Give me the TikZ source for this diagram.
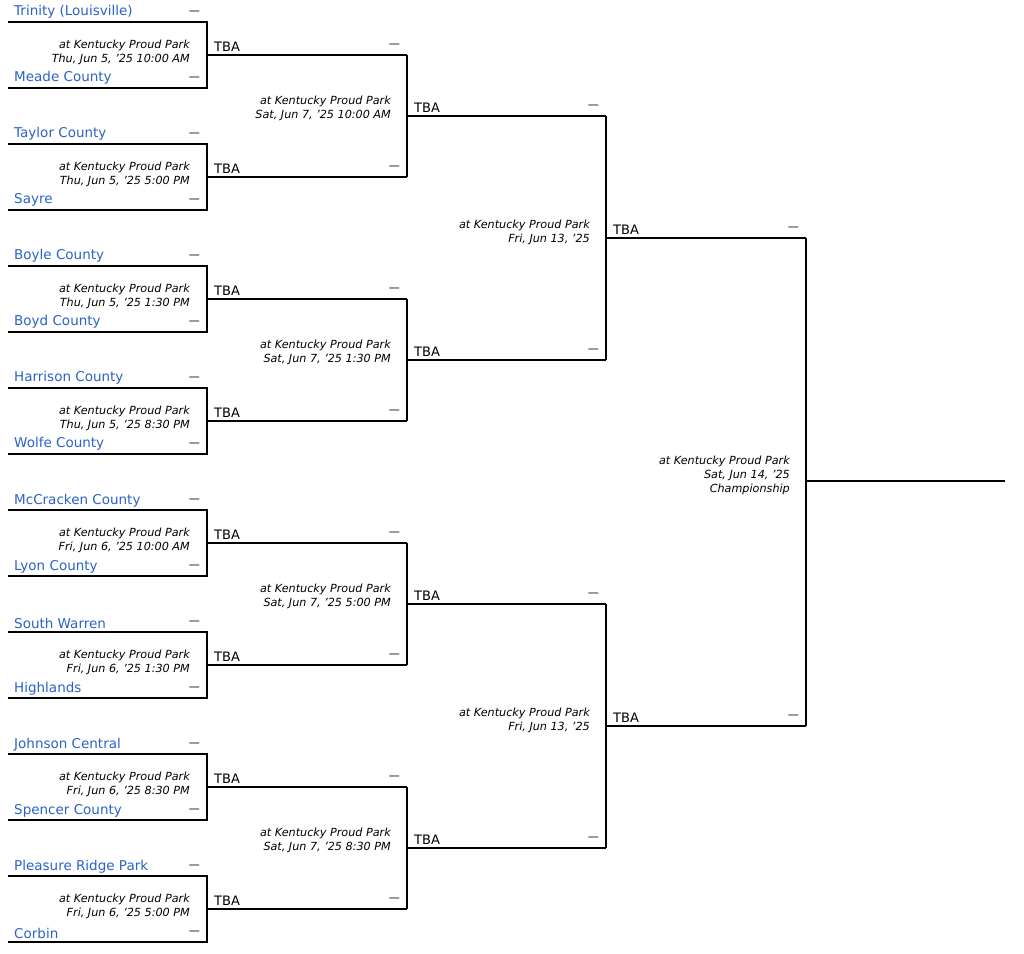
\documentclass[tikz,border=0pt]{standalone}
\usepackage{fontspec}
\setmainfont{DejaVu Sans}
\usetikzlibrary{calc}
\definecolor{teamblue}{RGB}{41,98,200}
\tikzset{
    bline/.style={line width=1.7pt, black},
    team/.style={anchor=south west, inner sep=1pt, text=teamblue, font=\fontsize{13.5}{15}\selectfont},
    score/.style={anchor=south east, inner sep=1pt, font=\fontsize{11}{14}\selectfont},
    tba/.style={anchor=south west, inner sep=1pt, font=\fontsize{13}{15}\selectfont},
    venue/.style={anchor=north east, inner sep=0pt, align=right, font=\fontsize{11.2}{14}\itshape\selectfont}
}
\begin{document}
\begin{tikzpicture}[x=1pt,y=-1pt]
    \useasboundingbox (0,0) rectangle (1024,953);
    % first round
    \foreach \i/\ta/\tb/\when in {
        0/Trinity (Louisville)/Meade County/{Thu, Jun 5, '25 10:00 AM},
        1/Taylor County/Sayre/{Thu, Jun 5, '25 5:00 PM},
        2/Boyle County/Boyd County/{Thu, Jun 5, '25 1:30 PM},
        3/Harrison County/Wolfe County/{Thu, Jun 5, '25 8:30 PM},
        4/McCracken County/Lyon County/{Fri, Jun 6, '25 10:00 AM},
        5/South Warren/Highlands/{Fri, Jun 6, '25 1:30 PM},
        6/Johnson Central/Spencer County/{Fri, Jun 6, '25 8:30 PM},
        7/Pleasure Ridge Park/Corbin/{Fri, Jun 6, '25 5:00 PM}} {
        \pgfmathsetmacro\t{22+122*\i}
        \coordinate (a\i) at (8,\t);
        \coordinate (b\i) at (8,\t+66);
        \coordinate (w\i) at (207,\t+33);
        \coordinate (n\i) at (407,\t+33);
        \draw[bline] (a\i) -- (207,\t) -- (207,\t+66) -- (b\i);
        \draw[bline] (w\i) -- (n\i);
        \node[team] (ta\i) at ($(a\i)+(5,-2)$) {\ta};
        \node[score] (sa\i) at ($(a\i)+(193,-6)$) {---};
        \node[team] (tb\i) at ($(b\i)+(5,-2)$) {\tb};
        \node[score] (sb\i) at ($(b\i)+(193,-6)$) {---};
        \node[venue] (v\i) at ($(a\i)+(182,18)$) {at Kentucky Proud Park\\\when};
        \node[tba] (r\i) at ($(w\i)+(6,-2)$) {TBA};
        \node[score] (d\i) at ($(n\i)+(-6,-6)$) {---};
    }
    % second round
    \foreach \j/\when in {0/{Sat, Jun 7, '25 10:00 AM},1/{Sat, Jun 7, '25 1:30 PM},
        2/{Sat, Jun 7, '25 5:00 PM},3/{Sat, Jun 7, '25 8:30 PM}} {
        \pgfmathsetmacro\t{55+244*\j}
        \coordinate (m\j) at (407,\t+61);
        \coordinate (q\j) at (606,\t+61);
        \draw[bline] (407,\t) -- (407,\t+122);
        \draw[bline] (m\j) -- (q\j);
        \node[venue] (vv\j) at (391,\t+41) {at Kentucky Proud Park\\\when};
        \node[tba] (rr\j) at ($(m\j)+(6,-2)$) {TBA};
        \node[score] (dd\j) at ($(q\j)+(-6,-6)$) {---};
    }
    % semifinals
    \foreach \k in {0,1} {
        \pgfmathsetmacro\t{116+488*\k}
        \coordinate (s\k) at (606,\t+122);
        \coordinate (f\k) at (806,\t+122);
        \draw[bline] (606,\t) -- (606,\t+244);
        \draw[bline] (s\k) -- (f\k);
        \node[venue] (vs\k) at (590,\t+104) {at Kentucky Proud Park\\Fri, Jun 13, '25};
        \node[tba] (rs\k) at ($(s\k)+(6,-2)$) {TBA};
        \node[score] (ds\k) at ($(f\k)+(-6,-6)$) {---};
    }
    % championship
    \coordinate (champ) at (1005,481);
    \draw[bline] (f0) -- (f1);
    \draw[bline] (806,481) -- (champ);
    \node[venue] (vf) at (790,456) {at Kentucky Proud Park\\Sat, Jun 14, '25\\Championship};
\end{tikzpicture}
\end{document}
